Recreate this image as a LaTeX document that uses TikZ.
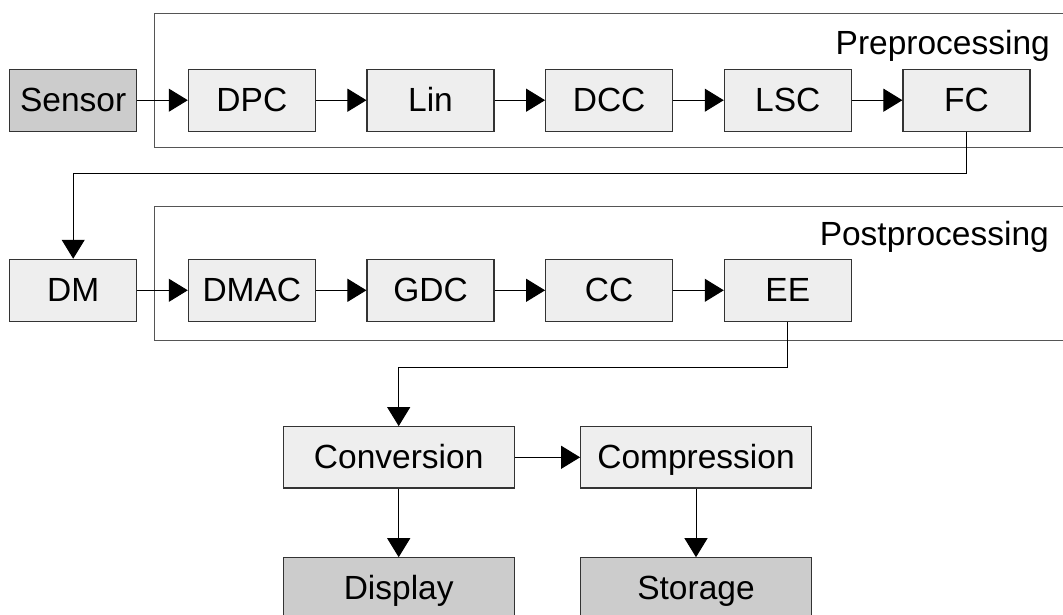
\documentclass[tikz,border=0pt]{standalone}
\usepackage{fontspec}
\setmainfont{Liberation Sans}
\usetikzlibrary{arrows.meta}
\definecolor{boxlight}{HTML}{EEEEEE}
\definecolor{boxdark}{HTML}{CCCCCC}
\definecolor{boxline}{HTML}{333333}
\definecolor{frameline}{HTML}{555555}
\tikzset{
  stage/.style={draw=boxline, line width=1.1pt, fill=boxlight,
    minimum width=127pt, minimum height=62pt, inner sep=0pt,
    text height=30pt, text depth=7pt},
  endpoint/.style={stage, fill=boxdark},
  widestage/.style={stage, minimum width=230.7pt, minimum height=61.3pt},
  wideend/.style={widestage, fill=boxdark},
  groupframe/.style={draw=frameline, line width=1.5pt},
  grouplabel/.style={anchor=base east, inner sep=0pt},
  flow/.style={draw=black, line width=1pt, -{Triangle[length=19pt,width=23pt]}}
}
\begin{document}
\begin{tikzpicture}[x=1pt, y=-1pt, font=\fontsize{33.5}{40}\selectfont]
\useasboundingbox (0,0) rectangle (1063,615);
\clip (0,0) rectangle (1063,615);

% processing group frames (open to the right)
\draw[groupframe] (1080,13.3) -- (154.7,13.3) -- (154.7,147.7) -- (1080,147.7);
\draw[groupframe] (1080,206.7) -- (154.7,206.7) -- (154.7,340.7) -- (1080,340.7);
\node[grouplabel] (prelabel) at (1050,55) {Preprocessing};
\node[grouplabel] (postlabel) at (1049,245) {Postprocessing};

% first row: raw sensor pipeline
\node[endpoint] (sensor) at (73.2,100.2) {Sensor};
\node[stage] (dpc) at (251.85,100.2) {DPC};
\node[stage] (lin) at (430.5,100.2) {Lin};
\node[stage] (dcc) at (609.15,100.2) {DCC};
\node[stage] (lsc) at (787.8,100.2) {LSC};
\node[stage] (fc)  at (966.45,100.2) {FC};

% second row: demosaicing and postprocessing
\node[stage] (dm)   at (73.2,290.3) {DM};
\node[stage] (dmac) at (251.85,290.3) {DMAC};
\node[stage] (gdc)  at (430.5,290.3) {GDC};
\node[stage] (cc)   at (609.15,290.3) {CC};
\node[stage] (ee)   at (787.8,290.3) {EE};

% output stages
\node[widestage] (conv) at (398.7,457.3) {Conversion};
\node[widestage] (comp) at (696,457.3) {Compression};
\node[wideend] (disp) at (398.7,588.4) {Display};
\node[wideend] (stor) at (696,588.4) {Storage};

% connectors
\draw[flow] (sensor) -- (dpc);
\draw[flow] (dpc) -- (lin);
\draw[flow] (lin) -- (dcc);
\draw[flow] (dcc) -- (lsc);
\draw[flow] (lsc) -- (fc);
\draw[flow] (fc.south) -- ++(0,41.5) -| (dm.north);
\draw[flow] (dm) -- (dmac);
\draw[flow] (dmac) -- (gdc);
\draw[flow] (gdc) -- (cc);
\draw[flow] (cc) -- (ee);
\draw[flow] (ee.south) -- ++(0,45.4) -| (conv.north);
\draw[flow] (conv) -- (comp);
\draw[flow] (conv) -- (disp);
\draw[flow] (comp) -- (stor);
\end{tikzpicture}
\end{document}
